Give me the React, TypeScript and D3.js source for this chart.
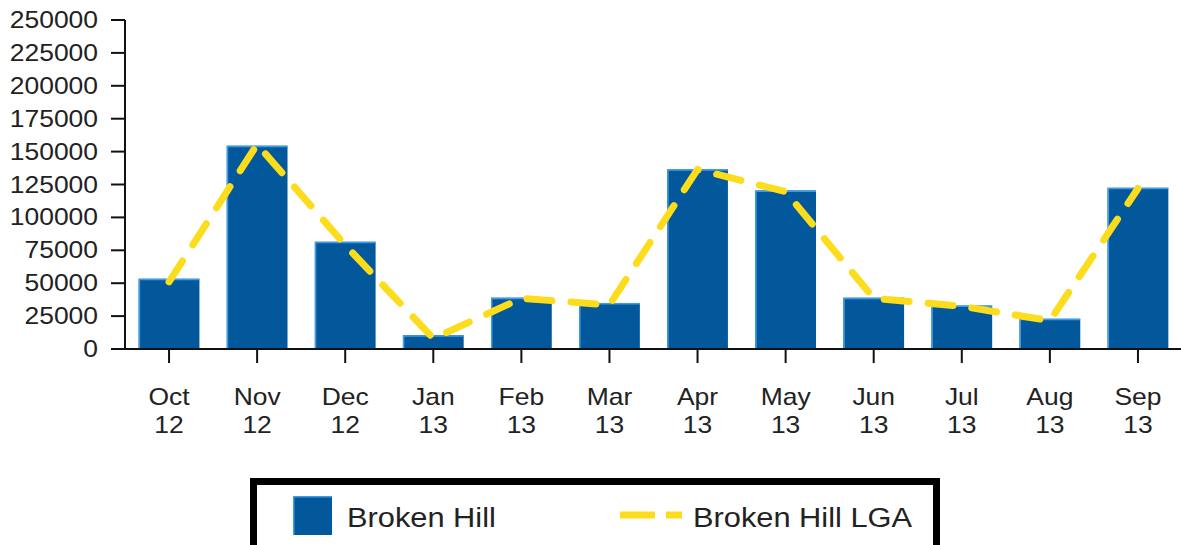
import React, { useRef, useEffect } from 'react'
import * as d3 from 'd3'

// chart data
const months = ['Oct 12', 'Nov 12', 'Dec 12', 'Jan 13', 'Feb 13', 'Mar 13', 'Apr 13', 'May 13', 'Jun 13', 'Jul 13', 'Aug 13', 'Sep 13']
const brokenHill = [53400, 154500, 81500, 10500, 39000, 35000, 136500, 120500, 39000, 33000, 23000, 122500]
const brokenHillLGA = [51000, 155500, 79000, 8000, 38500, 33500, 136500, 119500, 38500, 32500, 21500, 122000]
const yTicks = [0, 25000, 50000, 75000, 100000, 125000, 150000, 175000, 200000, 225000, 250000]
const seriesNames = ['Broken Hill', 'Broken Hill LGA']

const BAR = '#03589c'
const LINE = '#fddc1c'
const FONT = '"Liberation Sans", Arial, sans-serif'

const App = () => {
  const svgRef = useRef<SVGSVGElement>(null)

  const width = 1181
  const height = 545
  const margin = { top: 20, left: 125, bottom: 349, right: 1182 }

  useEffect(() => {
    document.body.style.margin = '0'
    const svg = d3.select(svgRef.current)
    svg.selectAll('*').remove()

    const x = d3.scaleBand<string>()
      .domain(months)
      .range([margin.left, margin.right])
      .paddingInner(0.31)
      .paddingOuter(0.155)
    const y = d3.scaleLinear()
      .domain([0, 250000])
      .range([margin.bottom, margin.top])

    // bars
    const bars = svg.append('g')
    months.forEach((m, i) => {
      const x0 = x(m)!
      const w = x.bandwidth()
      const y0 = y(brokenHill[i])
      bars.append('rect')
        .attr('x', x0).attr('y', y0)
        .attr('width', w).attr('height', y(0) - y0)
        .attr('fill', BAR)
      // light edge top-left
      bars.append('path')
        .attr('d', `M${x0 + 0.75},${y(0)}V${y0 + 0.75}H${x0 + w}`)
        .attr('fill', 'none')
        .attr('stroke', '#3c9de6')
        .attr('stroke-width', 1.5)
    })

    // dashed line
    const line = d3.line<number>()
      .x((_, i) => x(months[i])! + x.bandwidth() / 2)
      .y(d => y(d))
    svg.append('path')
      .datum(brokenHillLGA)
      .attr('d', line)
      .attr('fill', 'none')
      .attr('stroke', LINE)
      .attr('stroke-width', 7)
      .attr('stroke-dasharray', '25 19')
      .attr('stroke-linecap', 'round')
      .attr('stroke-linejoin', 'round')

    // y axis
    const yAxis = svg.append('g')
    yAxis.append('line')
      .attr('x1', margin.left).attr('x2', margin.left)
      .attr('y1', margin.top).attr('y2', margin.bottom + 1)
      .attr('stroke', '#111').attr('stroke-width', 2)
    yTicks.forEach(t => {
      yAxis.append('line')
        .attr('x1', margin.left - 14).attr('x2', margin.left)
        .attr('y1', y(t)).attr('y2', y(t))
        .attr('stroke', '#111').attr('stroke-width', 2)
      yAxis.append('text')
        .attr('transform', `translate(98,${y(t) + 8}) scale(1.15,1)`)
        .attr('text-anchor', 'end')
        .attr('font-family', FONT)
        .attr('font-size', 23)
        .attr('fill', '#222')
        .text(String(t))
    })

    // x axis
    const xAxis = svg.append('g')
    xAxis.append('line')
      .attr('x1', 112).attr('x2', width)
      .attr('y1', margin.bottom).attr('y2', margin.bottom)
      .attr('stroke', '#111').attr('stroke-width', 2)
    months.forEach(m => {
      const cx = x(m)! + x.bandwidth() / 2
      xAxis.append('line')
        .attr('x1', cx).attr('x2', cx)
        .attr('y1', margin.bottom).attr('y2', margin.bottom + 14)
        .attr('stroke', '#111').attr('stroke-width', 2)
      m.split(' ').forEach((part, j) => {
        xAxis.append('text')
          .attr('transform', `translate(${cx},${405 + j * 28}) scale(1.15,1)`)
          .attr('text-anchor', 'middle')
          .attr('font-family', FONT)
          .attr('font-size', 23)
          .attr('fill', '#222')
          .text(part)
      })
    })

    // legend
    const legend = svg.append('g')
    legend.append('rect')
      .attr('x', 253.5).attr('y', 481.5)
      .attr('width', 683).attr('height', 72)
      .attr('fill', '#fff')
      .attr('stroke', '#000')
      .attr('stroke-width', 7)
    legend.append('rect')
      .attr('x', 293).attr('y', 496)
      .attr('width', 39).attr('height', 39)
      .attr('fill', BAR)
    legend.append('path')
      .attr('d', 'M293.75,535V496.75H332')
      .attr('fill', 'none')
      .attr('stroke', '#3c9de6')
      .attr('stroke-width', 1.5)
    legend.append('text')
      .attr('transform', 'translate(347,527) scale(1.1,1)')
      .attr('font-family', FONT)
      .attr('font-size', 28)
      .attr('fill', '#222')
      .text(seriesNames[0])
    legend.append('line')
      .attr('x1', 620).attr('x2', 682)
      .attr('y1', 515).attr('y2', 515)
      .attr('stroke', LINE)
      .attr('stroke-width', 7)
      .attr('stroke-dasharray', '35 11')
    legend.append('text')
      .attr('transform', 'translate(693,527) scale(1.1,1)')
      .attr('font-family', FONT)
      .attr('font-size', 28)
      .attr('fill', '#222')
      .text(seriesNames[1])
  }, [])

  return (
    <svg ref={svgRef} width={width} height={height} style={{ display: 'block', background: '#fff' }} />
  )
}

export default App
